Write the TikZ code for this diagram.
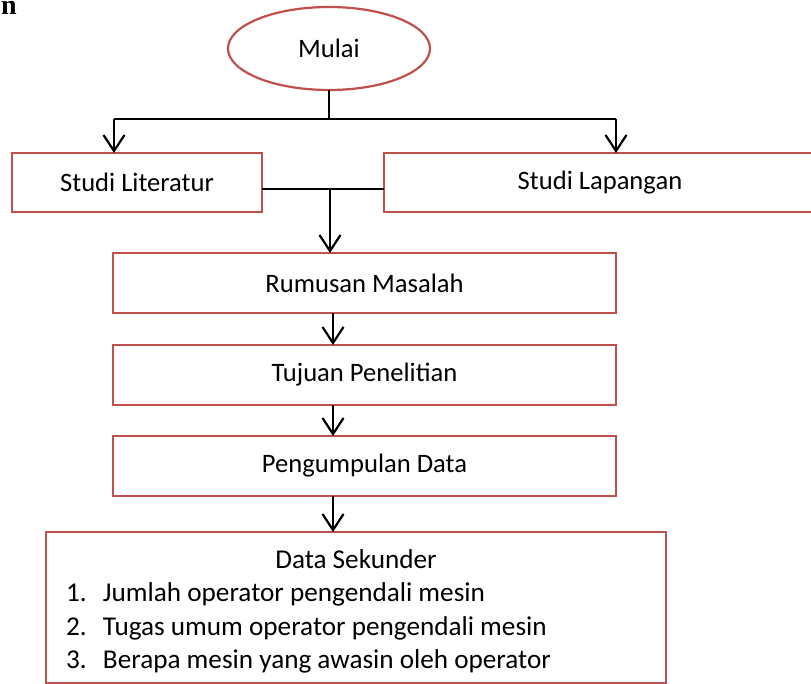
\documentclass[tikz,border=0pt]{standalone}
\usepackage{fontspec}
\setmainfont{Carlito}
\newfontfamily\judulfont{Liberation Serif}
\usepackage{xcolor}
\usetikzlibrary{shapes,arrows.meta,positioning}
\definecolor{merahbingkai}{HTML}{C0504D}

\begin{document}
\begin{tikzpicture}[
    x=1pt, y=1pt,
    node distance=32pt,
    kotak/.style={draw=merahbingkai, line width=2.2pt, minimum height=60pt, outer sep=0pt, align=center, font=\fontsize{26.6}{33.5}\selectfont},
    panah/.style={-{Straight Barb[length=16pt,width=21pt]}, line width=2.2pt},
    garis/.style={line width=2.2pt}
]
    \useasboundingbox (0,0) rectangle (811,-684);

    \node[font=\judulfont\bfseries\fontsize{28}{28}\selectfont, anchor=base west, inner sep=0pt] (potongan) at (1,-15) {n};

    \node[kotak, ellipse, minimum width=202pt, minimum height=83pt] (mulai) at (329,-48.5) {Mulai};
    \node[kotak, minimum width=250pt, minimum height=59pt] (literatur) at (137,-182.5) {Studi Literatur};
    \node[kotak, minimum width=432pt, minimum height=59pt] (lapangan) at (600,-182.5) {Studi Lapangan};
    \node[kotak, minimum width=503pt] (rumusan) at (364.5,-283) {Rumusan Masalah};
    \node[kotak, minimum width=503pt, below=32pt of rumusan] (tujuan) {Tujuan Penelitian};
    \node[kotak, minimum width=503pt, below=31pt of tujuan] (pengumpulan) {Pengumpulan Data};
    \node[kotak, minimum width=620pt, minimum height=151pt, align=left, font=\fontsize{27.2}{33.5}\selectfont] (sekunder) at (356,-607.5) {%
        \makebox[604pt][c]{\rule{0pt}{27pt}Data Sekunder}\\
        \makebox[604pt][l]{\hspace*{12pt}\makebox[37pt][l]{1.}Jumlah operator pengendali mesin}\\
        \makebox[604pt][l]{\hspace*{12pt}\makebox[37pt][l]{2.}Tugas umum operator pengendali mesin}\\
        \makebox[604pt][l]{\hspace*{12pt}\makebox[37pt][l]{3.}Berapa mesin yang awasin oleh operator}};

    % percabangan dari Mulai
    \coordinate (cabang) at (329,-119);
    \coordinate (kiri) at (114,-119);
    \coordinate (kanan) at (616,-119);
    \draw[garis] (mulai) -- (cabang);
    \draw[garis] (kiri) -- (kanan);
    \draw[panah] (kiri) -- (kiri |- literatur.north);
    \draw[panah] (kanan) -- (kanan |- lapangan.north);

    % gabungan ke Rumusan Masalah
    \coordinate (gabung) at (330,-189);
    \draw[garis] ([yshift=-6.5pt]literatur.east) -- ([yshift=-6.5pt]lapangan.west);
    \draw[panah] (gabung) -- (gabung |- rumusan.north);

    \coordinate (sumbu) at (333,0);
    \draw[panah] (rumusan.south -| sumbu) -- (tujuan.north -| sumbu);
    \draw[panah] (tujuan.south -| sumbu) -- (pengumpulan.north -| sumbu);
    \draw[panah] (pengumpulan.south -| sumbu) -- (sekunder.north -| sumbu);
\end{tikzpicture}
\end{document}
